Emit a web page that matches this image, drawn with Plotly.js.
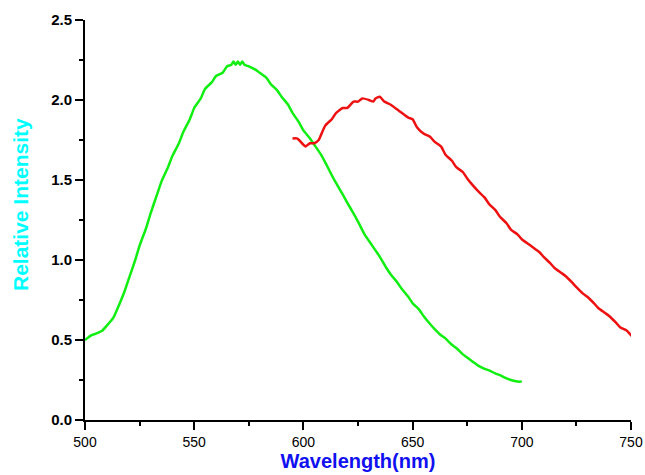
<!DOCTYPE html>
<html>
<head>
<meta charset="utf-8">
<script src="https://cdn.plot.ly/plotly-3.0.1.min.js"></script>
<style>html,body{margin:0;padding:0;background:#fff;}#chart{width:645px;height:475px;}</style>
</head>
<body>
<div id="chart"></div>
<script>
const greenWavelength = [500,503,505,508,510,513,515,518,520,523,525,528,530,533,535,538,540,543,545,548,550,553,555,558,560,563,565,567,568,569,570,571,572,573,575,578,580,583,585,588,590,593,595,598,600,603,605,608,610,613,615,618,620,623,625,628,630,633,635,638,640,643,645,648,650,653,655,658,660,663,665,668,670,673,675,678,680,683,685,688,690,693,695,698,700];
const greenIntensity  = [0.50,0.53,0.54,0.56,0.59,0.64,0.70,0.80,0.88,1.00,1.09,1.20,1.29,1.41,1.49,1.58,1.65,1.73,1.80,1.88,1.95,2.01,2.07,2.11,2.15,2.17,2.21,2.22,2.24,2.22,2.24,2.22,2.24,2.22,2.21,2.19,2.17,2.14,2.10,2.06,2.02,1.97,1.92,1.86,1.81,1.76,1.72,1.66,1.61,1.53,1.48,1.41,1.36,1.29,1.24,1.16,1.12,1.06,1.02,0.95,0.91,0.86,0.82,0.77,0.73,0.69,0.65,0.60,0.57,0.53,0.51,0.47,0.45,0.41,0.39,0.36,0.34,0.32,0.31,0.29,0.28,0.26,0.25,0.24,0.24];

const redWavelength = [595,597,598,600,601,602,603,605,607,608,610,613,615,618,620,623,625,627,630,632,633,635,637,640,643,645,648,650,652,655,658,660,663,665,668,670,673,675,678,680,683,685,688,690,693,695,698,700,703,705,708,710,713,715,718,720,723,725,728,730,733,735,738,740,743,745,748,750,751];
const redIntensity  = [1.76,1.76,1.75,1.72,1.71,1.72,1.73,1.73,1.75,1.78,1.84,1.88,1.92,1.95,1.95,1.99,1.99,2.01,2.00,1.99,2.01,2.02,1.99,1.97,1.94,1.92,1.89,1.88,1.83,1.79,1.77,1.74,1.71,1.66,1.62,1.58,1.55,1.51,1.46,1.43,1.39,1.35,1.31,1.27,1.23,1.19,1.16,1.13,1.10,1.08,1.05,1.02,0.98,0.95,0.92,0.90,0.86,0.83,0.79,0.77,0.73,0.70,0.67,0.65,0.61,0.58,0.56,0.53,0.52];

const xTitle = "Wavelength(nm)";
const yTitle = "Relative Intensity";

const traces = [
  {x: greenWavelength, y: greenIntensity, mode: 'lines', line: {color: '#11ee11', width: 2.5, shape: 'spline', smoothing: 0.5}, hoverinfo: 'skip'},
  {x: redWavelength, y: redIntensity, mode: 'lines', line: {color: '#ee1111', width: 2.5, shape: 'spline', smoothing: 0.5}, hoverinfo: 'skip'}
];

const layout = {
  width: 645, height: 475,
  margin: {l: 85, r: 14, t: 20, b: 55},
  paper_bgcolor: '#fff', plot_bgcolor: '#fff',
  showlegend: false,
  font: {family: 'Liberation Sans, Arial, sans-serif', color: '#000'},
  xaxis: {
    range: [500, 750], dtick: 50, tick0: 500,
    showline: true, linecolor: '#000', linewidth: 2,
    ticks: 'outside', ticklen: 8, tickwidth: 2, tickcolor: '#000',
    minor: {dtick: 25, ticks: 'outside', ticklen: 4, tickwidth: 2, tickcolor: '#000'},
    showgrid: false, zeroline: false,
    tickfont: {size: 14, color: '#000'},
    title: {text: xTitle, font: {size: 20, color: '#1010f0', family: 'Liberation Sans, Arial, sans-serif', weight: 'bold'}, standoff: 4}
  },
  yaxis: {
    range: [0, 2.5], dtick: 0.5, tick0: 0, tickformat: '.1f',
    showline: true, linecolor: '#000', linewidth: 2,
    ticks: 'outside', ticklen: 8, tickwidth: 2, tickcolor: '#000',
    minor: {dtick: 0.25, ticks: 'outside', ticklen: 4, tickwidth: 2, tickcolor: '#000'},
    showgrid: false, zeroline: false,
    tickfont: {size: 15, color: '#000', weight: 'bold'}
  },
  annotations: [{
    text: yTitle, textangle: -90, showarrow: false,
    xref: 'paper', yref: 'paper', x: -0.119, y: 0.5375, xanchor: 'center', yanchor: 'middle',
    font: {size: 21, color: '#00ffff', family: 'Liberation Sans, Arial, sans-serif', weight: 'bold'}
  }]
};

Plotly.newPlot('chart', traces, layout, {staticPlot: true, displayModeBar: false});
</script>
</body>
</html>
